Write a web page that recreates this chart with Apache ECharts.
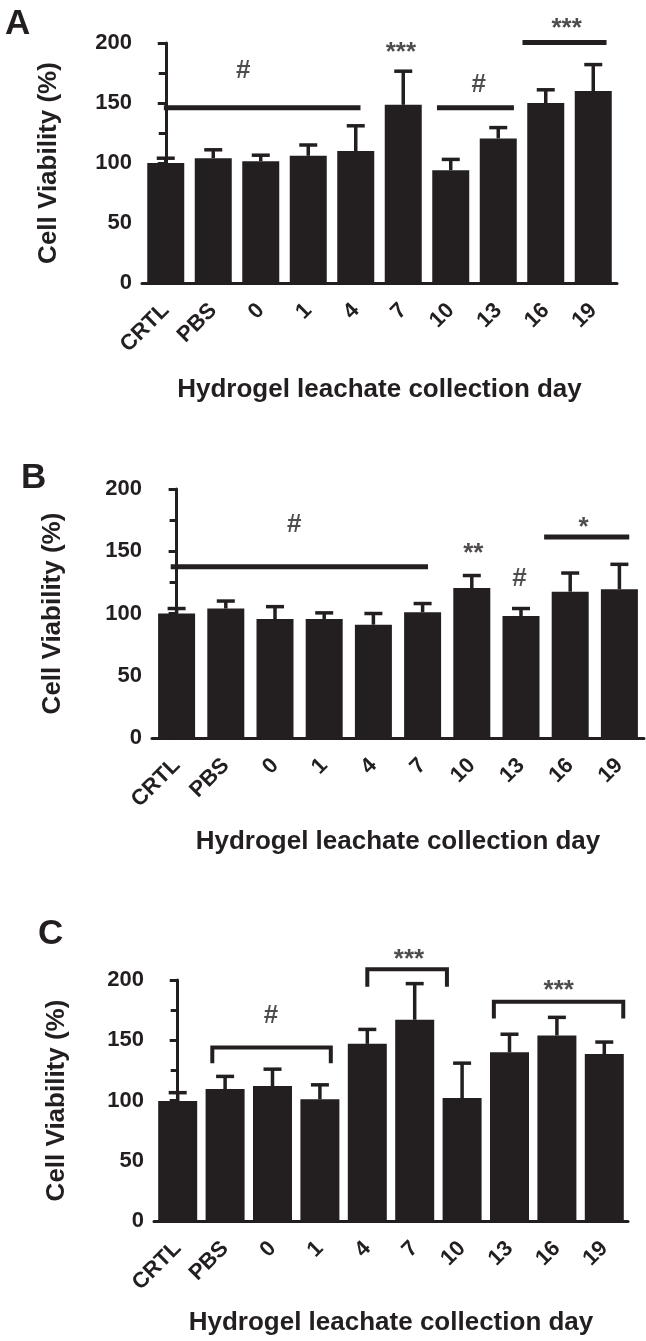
<!DOCTYPE html>
<html>
<head>
<meta charset="utf-8">
<script src="https://cdn.jsdelivr.net/npm/echarts@6/dist/echarts.min.js"></script>
<style>
  html, body { margin: 0; padding: 0; background: #fff; }
  #chart { width: 646px; height: 1341px; }
</style>
</head>
<body>
<div id="chart"></div>
<script>
// categories (collection day)
const categories = ["CRTL", "PBS", "0", "1", "4", "7", "10", "13", "16", "19"];
const yTicks = [0, 50, 100, 150, 200];

// panel A
const viabilityA = [100, 104, 101.5, 106, 110, 148.5, 94, 120.5, 150, 160];
const sdA = [4, 7, 5, 9, 21, 28, 9, 9, 11, 22];
// panel B
const viabilityB = [100, 104, 95.5, 95.5, 91, 101, 120.5, 98, 117.5, 119.5];
const sdB = [4, 6, 10, 5, 9, 7, 10, 6, 15, 20];
// panel C
const viabilityC = [99.5, 109.5, 112, 101, 147, 167, 102, 140, 154, 138.5];
const sdC = [7, 10.5, 14, 12, 12, 30, 29, 15, 15, 10];

// significance lines / brackets: [x (category index), value] points
const sigLinesA = [
  [[-0.04, 146], [4.1, 146]],
  [[5.71, 146], [7.33, 146]],
  [[7.51, 200.5], [9.28, 200.5]]
];
const sigTextA = [["#", 1.63, 177], ["***", 4.95, 192], ["#", 6.59, 165], ["***", 8.44, 212]];

const sigLinesB = [
  [[-0.12, 137.5], [5.11, 137.5]],
  [[7.47, 161.5], [9.2, 161.5]]
];
const sigTextB = [["#", 2.39, 171], ["**", 6.03, 148], ["#", 6.97, 128], ["*", 8.27, 169]];

const sigLinesC = [
  [[0.73, 131], [0.73, 144], [3.23, 144], [3.23, 131]],
  [[4.0, 194.5], [4.0, 209], [5.68, 209], [5.68, 194.5]],
  [[6.67, 168], [6.67, 182], [9.4, 182], [9.4, 168]]
];
const sigTextC = [["#", 1.97, 170], ["***", 4.88, 217], ["***", 8.04, 191]];

const ink = "#231f20";
const font = "'Liberation Sans', Arial, sans-serif";

const panels = [
  { vals: viabilityA, sd: sdA, lines: sigLinesA, texts: sigTextA, barWidth: 37, lw: 5,
    grid: { left: 142, top: 43, width: 475, height: 240 }, nameGapX: 94, nameGapY: 80 },
  { vals: viabilityB, sd: sdB, lines: sigLinesB, texts: sigTextB, barWidth: 37, lw: 5,
    grid: { left: 152, top: 489, width: 492, height: 249 }, nameGapX: 91, nameGapY: 86 },
  { vals: viabilityC, sd: sdC, lines: sigLinesC, texts: sigTextC, barWidth: 39, lw: 4,
    grid: { left: 154, top: 980, width: 474, height: 241 }, nameGapX: 89, nameGapY: 84 }
];

const chart = echarts.init(document.getElementById("chart"));

const grid = [], xAxis = [], yAxis = [], series = [];

panels.forEach(function (p, i) {
  grid.push(p.grid);
  // category axis for the bars
  xAxis.push({
    type: "category",
    gridIndex: i,
    data: categories,
    name: "Hydrogel leachate collection day",
    nameLocation: "middle",
    nameGap: p.nameGapX,
    nameTextStyle: { fontFamily: font, fontWeight: "bold", fontSize: 26, color: ink },
    axisLine: { lineStyle: { color: ink, width: 3 } },
    axisTick: { alignWithLabel: true, length: 9, lineStyle: { color: ink, width: 3 } },
    axisLabel: {
      interval: 0, rotate: 45, margin: 24,
      fontFamily: font, fontWeight: "bold", fontSize: 22, color: ink
    }
  });
  // hidden value axis used to place the significance marks
  xAxis.push({ type: "value", gridIndex: i, min: -0.5, max: 9.5, show: false });
  yAxis.push({
    type: "value",
    gridIndex: i,
    min: 0, max: 200, interval: 50,
    name: "Cell Viability (%)",
    nameLocation: "middle",
    nameGap: p.nameGapY,
    nameTextStyle: { fontFamily: font, fontWeight: "bold", fontSize: 26, color: ink },
    axisLine: { show: true, lineStyle: { color: ink, width: 3 } },
    axisTick: { show: true, length: 8, lineStyle: { color: ink, width: 3 } },
    minorTick: { show: true, splitNumber: 2, length: 7, lineStyle: { color: ink, width: 3 } },
    splitLine: { show: false },
    axisLabel: {
      margin: 10, fontFamily: font, fontWeight: "bold", fontSize: 22, color: ink,
      formatter: function (v) { return yTicks.indexOf(v) >= 0 ? String(v) : ""; }
    }
  });

  series.push({
    type: "bar",
    xAxisIndex: i * 2,
    yAxisIndex: i,
    data: p.vals,
    barWidth: p.barWidth,
    itemStyle: { color: ink }
  });
  // error bars (upper only)
  series.push({
    type: "custom",
    xAxisIndex: i * 2,
    yAxisIndex: i,
    z: 3,
    data: p.vals.map(function (v, k) { return [k, v, p.sd[k]]; }),
    renderItem: function (params, api) {
      const x = api.value(0), v = api.value(1), e = api.value(2);
      const base = api.coord([x, v]);
      const top = api.coord([x, v + e]);
      return {
        type: "group",
        children: [
          { type: "line", shape: { x1: base[0], y1: base[1], x2: top[0], y2: top[1] },
            style: { stroke: ink, lineWidth: 3.5 } },
          { type: "line", shape: { x1: top[0] - 9, y1: top[1], x2: top[0] + 9, y2: top[1] },
            style: { stroke: ink, lineWidth: 3.5 } }
        ]
      };
    }
  });
  // significance lines / brackets
  p.lines.forEach(function (seg) {
    series.push({
      type: "line",
      xAxisIndex: i * 2 + 1,
      yAxisIndex: i,
      data: seg,
      clip: false,
      symbol: "none",
      silent: true,
      lineStyle: { color: ink, width: p.lw, cap: "butt", join: "miter" }
    });
  });
  // significance symbols
  series.push({
    type: "scatter",
    xAxisIndex: i * 2 + 1,
    yAxisIndex: i,
    clip: false,
    symbolSize: 0,
    data: p.texts.map(function (t) { return { value: [t[1], t[2]], name: t[0] }; }),
    label: {
      show: true, position: "inside",
      formatter: function (d) { return d.name; },
      fontFamily: font, fontWeight: "bold", fontSize: 26, color: ink
    }
  });
});

chart.setOption({
  animation: false,
  backgroundColor: "#fff",
  title: [
    { text: "A", left: 0, top: 2, textStyle: { fontFamily: font, fontWeight: "bold", fontSize: 35, color: ink } },
    { text: "B", left: 16, top: 456, textStyle: { fontFamily: font, fontWeight: "bold", fontSize: 35, color: ink } },
    { text: "C", left: 33, top: 912, textStyle: { fontFamily: font, fontWeight: "bold", fontSize: 35, color: ink } }
  ],
  grid: grid,
  xAxis: xAxis,
  yAxis: yAxis,
  series: series
});

window.addEventListener("resize", function () {
  chart.resize();
});
</script>
</body>
</html>
